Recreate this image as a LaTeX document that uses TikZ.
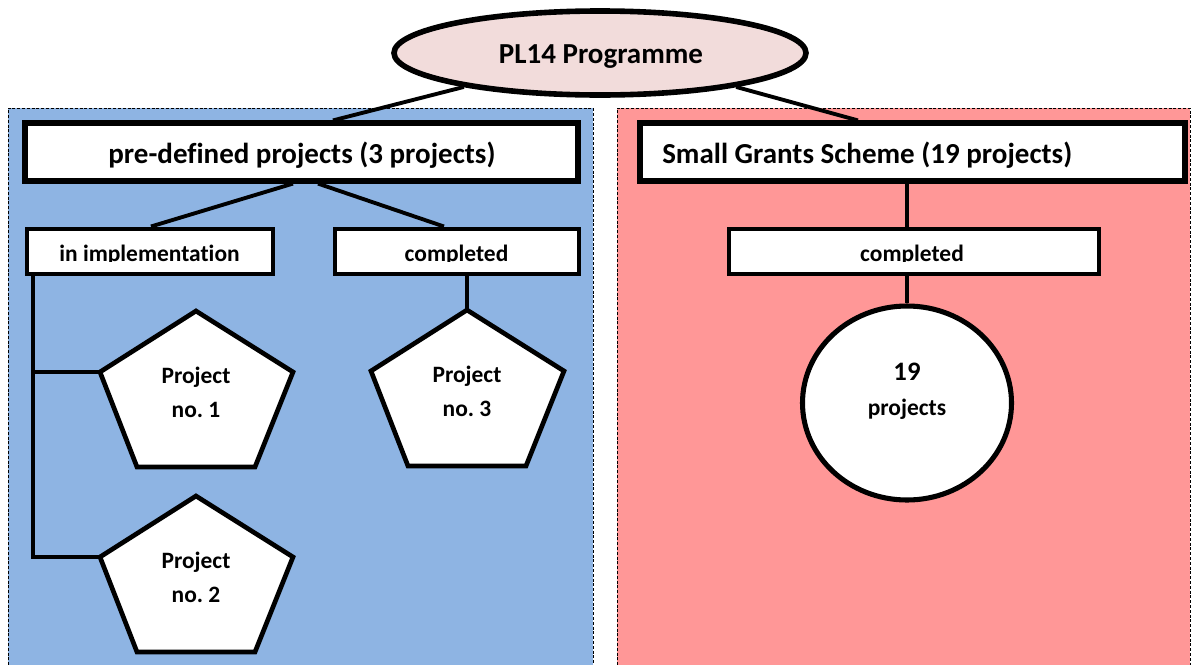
\documentclass[tikz,border=0pt]{standalone}
\usepackage{fontspec}
\setmainfont{Carlito}[Ligatures=NoCommon]
\usetikzlibrary{shapes.geometric}
\definecolor{bluepanel}{HTML}{8EB4E3}
\definecolor{redpanel}{HTML}{FF9797}
\definecolor{ellfill}{HTML}{F2DCDB}
\frenchspacing
\begin{document}
\begin{tikzpicture}[x=0.75pt,y=-0.75pt,
  panel/.style={draw=black, line width=0.7pt, dash pattern=on 2.2pt off 1.4pt},
  conn/.style={draw=black, line width=2.9pt},
  bigbox/.style={draw=black, fill=white, line width=3.9pt, rectangle, inner sep=0pt, minimum height=43.5pt},
  smallbox/.style={draw=black, fill=white, line width=3pt, rectangle, inner sep=0pt, minimum height=33.75pt},
  bigtxt/.style={font=\fontsize{21.75pt}{26pt}\selectfont\bfseries, inner sep=0pt},
  midtxt/.style={font=\fontsize{17.6pt}{21pt}\selectfont\bfseries, inner sep=0pt, anchor=base},
  pics/pent/.style={code={
    \draw[line width=3.5pt, fill=white, line join=miter]
      (0,0) coordinate (-top) -- (97,61) coordinate (-ur) -- (59,156) -- (-59,156)
      -- (-96,61) coordinate (-ul) -- cycle;
    \node[midtxt] (-a) at (0,72) {Project};
    \node[midtxt] (-b) at (0,106) {no. #1};
  }}
]
\useasboundingbox (0,0) rectangle (1191,664);
\clip (0,0) rectangle (1191,664);
\fill[white] (0,0) rectangle (1191,664);

% panels
\fill[bluepanel] (8,108) rectangle (593,670);
\draw[panel] (8,670) -- (8,108) -- (593,108) -- (593,670);
\fill[redpanel] (617,108) rectangle (1190,670);
\draw[panel] (617,670) -- (617,108) -- (1190,108) -- (1190,670);

% nodes
\node[ellipse, draw=black, fill=ellfill, line width=4.2pt, inner sep=0pt,
      minimum width=309pt, minimum height=63pt] (title) at (600,53) {};
\node[bigtxt, anchor=base] (titleT) at (601,63) {PL14 Programme};

\node[bigbox, minimum width=414.75pt] (pd) at (301.5,152) {};
\node[bigbox, minimum width=408.75pt] (sgs) at (912.5,152) {};

\node[smallbox, minimum width=184.5pt] (impl) at (149.5,251) {};
\node[smallbox, minimum width=183pt] (compL) at (456.5,251) {};
\node[smallbox, minimum width=277.5pt] (compR) at (913.5,251) {};

\node[ellipse, draw=black, fill=white, line width=3.8pt, inner sep=0pt,
      minimum width=156.75pt, minimum height=145.5pt] (circ) at (907,403) {};

\pic (p1) at (196,311) {pent=1};
\pic (p2) at (196,496) {pent=2};
\pic (p3) at (467,310) {pent=3};

% connectors
\draw[conn] (title.194) -- ([xshift=23.6pt]pd.north);
\draw[conn] (title.346) -- ([xshift=-40.9pt]sgs.north);
\draw[conn] ([xshift=-6.4pt]pd.south) -- ([xshift=1.1pt]impl.north);
\draw[conn] ([xshift=12.4pt]pd.south) -- ([xshift=-9.4pt]compL.north);
\draw[conn] (compL.south -| p3-top) -- (p3-top);
\draw[conn] (sgs.south -| circ.north) -- (compR.north -| circ.north);
\draw[conn] (compR.south -| circ.north) -- (circ.north);
\coordinate (brk) at ([xshift=6.4pt]impl.south west);
\draw[conn] (brk) |- (p2-ul);
\draw[conn] (brk |- p1-ul) -- (p1-ul);

% texts
\node[bigtxt, anchor=base] (pdT) at (302,163) {pre-defined projects (3 projects)};
\node[bigtxt, anchor=base west] (sgsT) at (662,163) {Small Grants Scheme (19 projects)};

\begin{scope}
\clip (20,220) rectangle (1110,261.8);
\node[midtxt] (implT) at (149.5,261) {in implementation};
\node[midtxt] (compLT) at (456.5,261) {completed};
\node[midtxt] (compRT) at (912,261) {completed};
\end{scope}

\node[font=\fontsize{20pt}{24pt}\selectfont\bfseries, inner sep=0pt, anchor=base] (circA) at (907,380) {19};
\node[midtxt] (circB) at (907,415) {projects};
\end{tikzpicture}
\end{document}
